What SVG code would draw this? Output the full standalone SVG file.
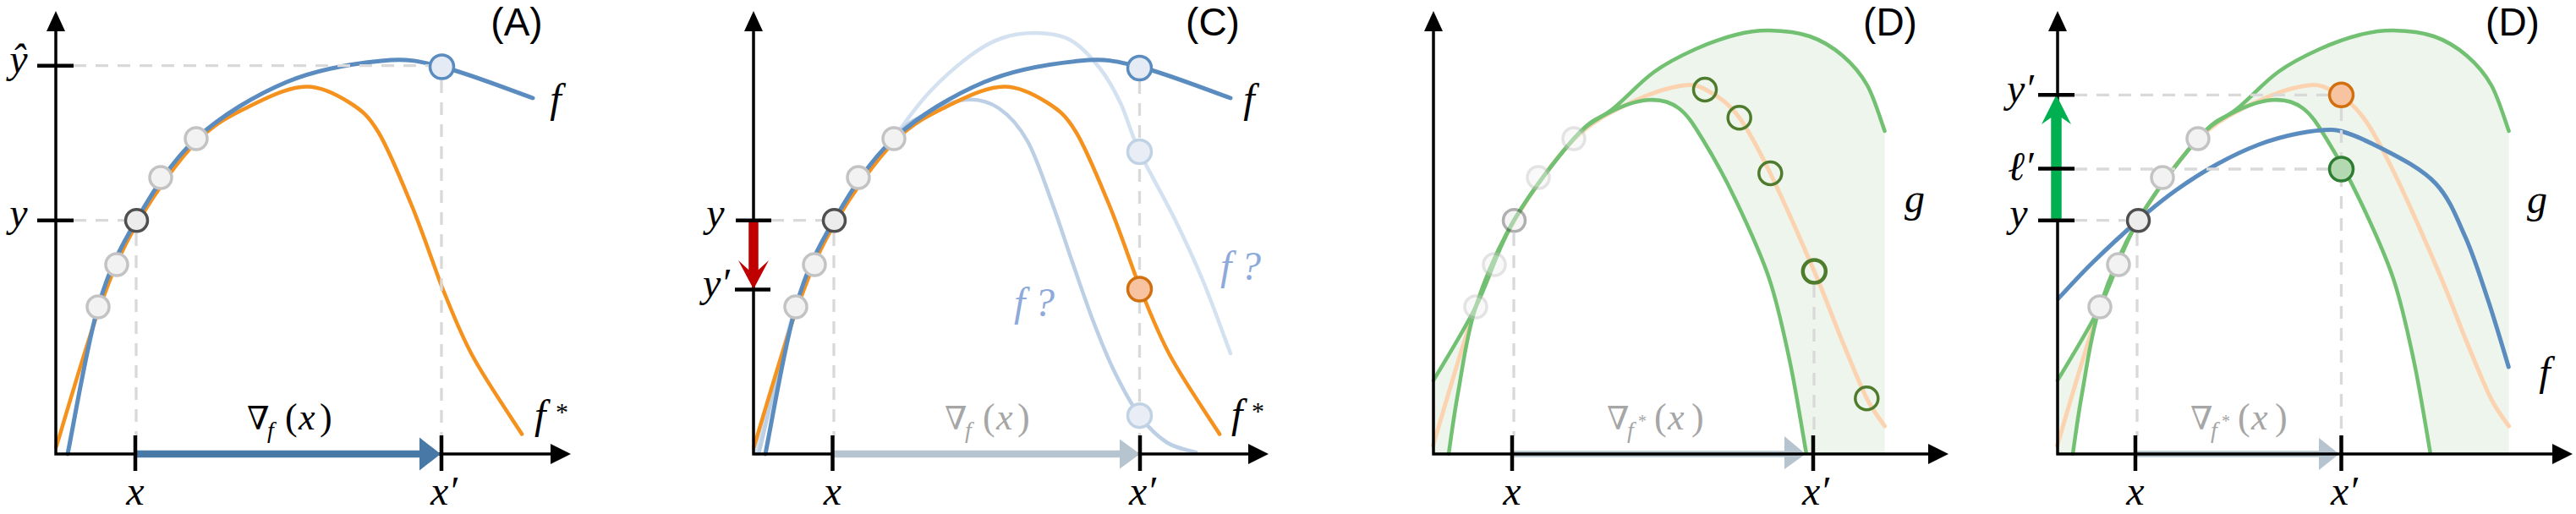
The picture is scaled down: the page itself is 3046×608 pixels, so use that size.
<svg xmlns="http://www.w3.org/2000/svg" width="3046" height="608" viewBox="0 0 3046 608">
<style>
.cv{fill:none;stroke-width:5;stroke-linecap:round;stroke-linejoin:round}
.blue{stroke:#5a8cbf}
.orange{stroke:#f5921e;stroke-width:4.5}
.lb1{stroke:#d3e1f0;stroke-width:4.5}
.lb2{stroke:#bccfe4;stroke-width:4.5}
.green{stroke:#72c072;stroke-width:4.5}
.peach{stroke:#fcd3b0}
.dash{stroke:#d9d9d9;stroke-width:3.3;stroke-dasharray:15 11;fill:none}
.tk{stroke:#000;stroke-width:4.5;fill:none}
.m{font-family:"Liberation Serif","DejaVu Serif",serif;font-style:italic;font-size:48px;fill:#000}
.up{font-style:normal}
.nab{font-family:"DejaVu Serif","Liberation Serif",serif;font-size:38px}
.pl{font-family:"Liberation Sans",Arial,sans-serif;font-size:46px;text-anchor:middle;fill:#000}
.grey{fill:#a6a6a6}
.fq{fill:#8eaadb}
</style>
<defs>
<path id="bf" d="M80,537 C86,508 102.5,409 116,363 C129.5,317 141.7,294.2 161,261 C180.3,227.8 202.3,191.3 232,164 C261.7,136.7 302.5,112.3 339,97 C375.5,81.7 420.4,75 451,72 C481.6,69 492.7,71.7 522.5,79 C552.3,86.3 612.1,109.8 630,116"/>
<path id="of" d="M65,527 C73.5,499.7 100,407.2 116,363 C132,318.8 141.7,295 161,262 C180.3,229 208.8,188.5 232,165 C255.2,141.5 278.5,131.7 300,121 C321.5,110.3 342.3,101.2 361,101 C379.7,100.8 397.8,111 412,120 C426.2,129 433.9,135 446,155 C458.1,175 472.1,209.7 484.7,240 C497.3,270.3 509.5,307.2 521.5,339 C533.5,368 541.3,389.8 557,419 C572.7,448.2 605.8,496.5 615.6,512"/>
<path id="uf" d="M68,537 C76,508 100.5,409 116,363 C131.5,317 141.8,294.2 161,261 C180.2,227.8 212.2,189.3 231,164 C249.8,138.7 258.8,125.3 274,109 C289.2,92.7 307.7,76.7 322,66 C336.3,55.3 347,49.5 360,45 C373,40.5 386.7,38.7 400,39 C413.3,39.3 427.5,40.2 440,47 C452.5,53.8 465,67.5 475,80 C485,92.5 492.1,105.4 500,122 C507.9,138.6 511.7,156.5 522.4,179.5 C533.2,202.5 551.9,234.4 564.5,260 C577.1,285.6 586.9,306.7 597.8,333 C608.7,359.3 624.6,403.8 630,418"/>
<path id="lf" d="M72,537 C79.3,508 101.2,409 116,363 C130.8,317 141.8,294.2 161,261 C180.2,227.8 212.8,185 231,164 C249.2,143 255.7,142.7 270,135 C284.3,127.3 302.7,119.2 317,118 C331.3,116.8 343.8,119.8 356,128 C368.2,136.2 379.5,148.3 390,167 C400.5,185.7 410.2,216.2 419,240 C427.8,263.8 434.9,286.7 443,310 C451.1,333.3 459.5,358.7 467.7,380 C475.9,401.3 482.9,419.4 492,438 C501.1,456.6 511.9,477.4 522.4,491.7 C532.9,506 543.9,516.3 555,523.5 C566.1,530.7 583.3,533.1 589,535"/>
<path id="gu" d="M66,450 C74.3,435.5 100.2,394.5 116,363 C131.8,331.5 141.7,294.2 161,261 C180.3,227.8 212.3,186.2 232,164 C251.7,141.8 263.2,141.2 279,128 C294.8,114.8 310.8,96.7 327,85 C343.2,73.3 359.8,65.3 376,58 C392.2,50.7 409.5,44.7 424,41 C438.5,37.3 448.5,35.7 463,36 C477.5,36.3 496.5,38 511,43 C525.5,48 538.7,56.3 550,66 C561.3,75.7 570.7,86.2 579,101 C587.3,115.8 596.2,146 599.6,155"/>
<path id="gl" d="M84,537 C85.8,525 89.7,494 95,465 C100.3,436 105,397 116,363 C127,329 141.7,294.2 161,261 C180.3,227.8 213.5,185.2 232,164 C250.5,142.8 257.3,141.6 272,134 C286.7,126.4 306,119.3 320,118.3 C334,117.3 345.2,120 356,128 C366.8,136 373.7,147.7 385,166 C396.3,184.3 411,210.7 424,238 C437,265.3 452.5,298.2 463,329.6 C473.5,361 479.9,392.4 487.2,426.6 C494.5,460.8 503.4,516.9 506.6,535"/>
<path id="shade" d="M66,537 L66,450 C74.3,435.5 100.2,394.5 116,363 C131.8,331.5 141.7,294.2 161,261 C180.3,227.8 212.3,186.2 232,164 C251.7,141.8 263.2,141.2 279,128 C294.8,114.8 310.8,96.7 327,85 C343.2,73.3 359.8,65.3 376,58 C392.2,50.7 409.5,44.7 424,41 C438.5,37.3 448.5,35.7 463,36 C477.5,36.3 496.5,38 511,43 C525.5,48 538.7,56.3 550,66 C561.3,75.7 570.7,86.2 579,101 C587.3,115.8 596.2,146 599.6,155 L599.6,537 Z"/>
<path id="inner" d="M84,537 C85.8,525 89.7,494 95,465 C100.3,436 105,397 116,363 C127,329 141.7,294.2 161,261 C180.3,227.8 213.5,185.2 232,164 C250.5,142.8 257.3,141.6 272,134 C286.7,126.4 306,119.3 320,118.3 C334,117.3 345.2,120 356,128 C366.8,136 373.7,147.7 385,166 C396.3,184.3 411,210.7 424,238 C437,265.3 452.5,298.2 463,329.6 C473.5,361 479.9,392.4 487.2,426.6 C494.5,460.8 503.4,516.9 506.6,537 Z"/>
<path id="pk" d="M65.5,527 C73.9,499.7 100.1,407.2 116,363 C131.9,318.8 141.7,295 161,262 C180.3,229 208.8,188.5 232,165 C255.2,141.5 278.3,131.7 300,121 C321.7,110.3 346.2,102.8 362,101 C377.8,99.2 384,103.6 395,110 C406,116.4 416.1,123.5 427.7,139.3 C439.3,155.1 449.5,174.7 464.3,205 C479.1,235.3 502,287.7 516.3,321 C530.6,354.3 539.7,380 550,405 C560.3,430 570,454.7 578.3,471.2 C586.6,487.7 596,498.5 599.6,504"/>
<path id="bd" d="M67,353 C73.8,345.8 92.3,325.3 108,310 C123.7,294.7 144.7,275.2 161,261 C177.3,246.8 190.3,236.2 206,225 C221.7,213.8 238.7,203 255,194 C271.3,185 288.2,177 304,171 C319.8,165 335.7,160.8 350,158 C364.3,155.2 375,153.5 390,153.5 C405,153.5 429.5,165.5 450,176 C470.5,186.5 496.7,199.7 513,217 C529.3,234.3 537.7,257 548,280 C558.3,303 566.4,329.3 575,355 C583.6,380.7 595.3,420.8 599.3,434"/>
<g id="pts" stroke-width="3.5">
<circle cx="116" cy="363" r="13" fill="#f2f2f2" stroke="#c3c3c3"/>
<circle cx="138" cy="313" r="13" fill="#f2f2f2" stroke="#c3c3c3"/>
<circle cx="190" cy="210" r="13" fill="#f2f2f2" stroke="#c3c3c3"/>
<circle cx="232" cy="164" r="13" fill="#f2f2f2" stroke="#c3c3c3"/>
<circle cx="161.5" cy="260.7" r="13" fill="#ececec" stroke="#4f4f4f"/>
</g>
<g id="axes">
<path d="M66,537 V36 M64.3,537 H652" stroke="#000" stroke-width="3.5" fill="none"/>
<polygon points="66,13 55,37 77,37" fill="#000"/>
<polygon points="675,537 651,525 651,549" fill="#000"/>
</g>
</defs>
<rect width="3046" height="608" fill="#fff"/>

<g id="panel-a">
<g id="a-curves">
<use href="#of" class="cv orange" transform="translate(1.5,1.5)"/>
<use href="#bf" class="cv blue"/>
</g>
<g id="a-guides">
<path class="dash" d="M87,77.7 H507 M87,260.7 H147 M161,276 V516 M522,95 V516"/>
</g>
<g id="a-points">
<use href="#pts"/>
<circle cx="522.5" cy="79" r="14" fill="#e5ebf4" stroke="#5a8cbf" stroke-width="3.5"/>
</g>
<g id="a-axes">
<use href="#axes"/>
<line x1="160" y1="537" x2="498" y2="537" stroke="#4878a6" stroke-width="8.5"/>
<polygon points="521,537 496,517.5 496,556.5" fill="#4878a6"/>
<path class="tk" d="M160,515 V557 M522,515 V557 M44,77.7 H87 M44,260.7 H87"/>
</g>
<g id="a-labels">
<text class="m" x="22" y="86" text-anchor="middle">ŷ</text>
<text class="m" x="22" y="268" text-anchor="middle">y</text>
<text class="m" x="160" y="597" text-anchor="middle">x</text>
<text class="m" x="509" y="597">x′</text>
<text class="m" x="657" y="133" text-anchor="middle">f</text>
<text class="m" x="632" y="507">f<tspan class="up" x="657" y="497" font-size="30">*</tspan></text>
<text class="m" y="508"><tspan class="nab" x="292">∇</tspan><tspan x="316" y="518" font-size="28">f</tspan><tspan class="up" x="337" y="508" font-size="44">(</tspan><tspan x="353" font-size="44">x</tspan><tspan class="up" x="378" font-size="44">)</tspan></text>
<text class="pl" x="611" y="42">(A)</text>
</g>
</g>

<g id="panel-c">
<g id="c-curves" transform="translate(825,0)">
<use href="#uf" class="cv lb1"/>
<use href="#lf" class="cv lb2"/>
<use href="#of" class="cv orange" transform="translate(1.5,1.5)"/>
<use href="#bf" class="cv blue"/>
</g>
<g id="c-guides">
<path class="dash" d="M912,260.7 H972 M986,276 V516 M1347.5,96 V516"/>
</g>
<g id="c-points">
<use href="#pts" transform="translate(825,0)"/>
<circle cx="1347.5" cy="80.5" r="14" fill="#e5ebf4" stroke="#5a8cbf" stroke-width="3.5"/>
<circle cx="1347.5" cy="179.5" r="14" fill="#e9eef6" stroke="#c0d2e4" stroke-width="3.5"/>
<circle cx="1347.5" cy="491.7" r="14" fill="#e9eef6" stroke="#c0d2e4" stroke-width="3.5"/>
<circle cx="1347.5" cy="342" r="14" fill="#f8c3a0" stroke="#d2700f" stroke-width="3.5"/>
</g>
<g id="c-axes">
<use href="#axes" transform="translate(825,0)"/>
<line x1="984.5" y1="537" x2="1326" y2="537" stroke="#b5c4cf" stroke-width="8.5"/>
<polygon points="1348,537 1324,519.5 1324,554.5" fill="#b5c4cf"/>
<line x1="891" y1="262" x2="891" y2="320" stroke="#c00000" stroke-width="11.5"/>
<polygon points="891,342 909,308 897,319 885,319 873,308" fill="#c00000"/>
<path class="tk" d="M984.5,515 V557 M1348,515 V557 M870,260.7 H912 M869,342.5 H911"/>
</g>
<g id="c-labels">
<text class="m" x="846" y="268" text-anchor="middle">y</text>
<text class="m" x="831" y="351">y′</text>
<text class="m" x="984.5" y="597" text-anchor="middle">x</text>
<text class="m" x="1335" y="597">x′</text>
<text class="m" x="1477" y="133" text-anchor="middle">f</text>
<text class="m" x="1456" y="506">f<tspan class="up" x="1480" y="496" font-size="30">*</tspan></text>
<text class="m fq" x="1199" y="374">f<tspan x="1223">?</tspan></text>
<text class="m fq" x="1443" y="331">f<tspan x="1467">?</tspan></text>
<text class="m grey" y="508"><tspan class="nab" x="1117">∇</tspan><tspan x="1141" y="518" font-size="28">f</tspan><tspan class="up" x="1162" y="508" font-size="44">(</tspan><tspan x="1178" font-size="44">x</tspan><tspan class="up" x="1203" font-size="44">)</tspan></text>
<text class="pl" x="1434" y="42">(C)</text>
</g>
</g>

<g id="panel-d1">
<g id="d1-curves" transform="translate(1629,0)">
<use href="#shade" fill="#edf5ec"/>
<use href="#inner" fill="#fff"/>
<use href="#pk" class="cv peach"/>
<use href="#gl" class="cv green"/>
<use href="#gu" class="cv green"/>
</g>
<g id="d1-guides">
<path class="dash" d="M1790,276 V516 M2145,337 V516"/>
</g>
<g id="d1-points">
<use href="#pts" transform="translate(1629,0)" opacity="0.45"/>
<g fill="none" stroke="#4f7c2c" stroke-width="3.5">
<circle cx="2016" cy="106" r="13.5"/>
<circle cx="2056.7" cy="139.3" r="13.5"/>
<circle cx="2093.3" cy="205" r="13.5"/>
<circle cx="2145.3" cy="321" r="13.5" stroke-width="4.5"/>
<circle cx="2207.3" cy="471.2" r="13.5"/>
</g>
</g>
<g id="d1-axes">
<line x1="1788" y1="537" x2="2111" y2="537" stroke="#b5c4cf" stroke-width="7.5"/>
<polygon points="2135,537 2110,516 2110,555" fill="#b5c4cf"/>
<use href="#axes" transform="translate(1629,0)"/>
<path class="tk" d="M1788,515 V557 M2144,515 V557"/>
</g>
<g id="d1-labels">
<text class="m" x="1788" y="597" text-anchor="middle">x</text>
<text class="m" x="2131" y="597">x′</text>
<text class="m" x="2264" y="251" text-anchor="middle">g</text>
<text class="m grey" y="508"><tspan class="nab" x="1900">∇</tspan><tspan x="1924" y="518" font-size="28">f</tspan><tspan class="up" x="1937" y="505" font-size="20">*</tspan><tspan class="up" x="1956" y="508" font-size="44">(</tspan><tspan x="1972" font-size="44">x</tspan><tspan class="up" x="2000" font-size="44">)</tspan></text>
<text class="pl" x="2235" y="42">(D)</text>
</g>
</g>

<g id="panel-d2">
<g id="d2-curves" transform="translate(2367,0)">
<use href="#shade" fill="#edf5ec"/>
<use href="#inner" fill="#fff"/>
<use href="#pk" class="cv peach"/>
<use href="#gl" class="cv green"/>
<use href="#gu" class="cv green"/>
<use href="#bd" class="cv blue"/>
</g>
<g id="d2-guides">
<path class="dash" d="M2453,112.3 H2753 M2453,200 H2753 M2453,260.7 H2513 M2527,276 V516 M2768.5,128 V516"/>
</g>
<g id="d2-points">
<use href="#pts" transform="translate(2367,0)"/>
<circle cx="2768.5" cy="112.3" r="14" fill="#f8c3a0" stroke="#d2700f" stroke-width="3.5"/>
<circle cx="2768.5" cy="200" r="14" fill="#b3d9b0" stroke="#2e7d32" stroke-width="3.5"/>
</g>
<g id="d2-axes">
<line x1="2525" y1="537" x2="2743" y2="537" stroke="#b5c4cf" stroke-width="7.5"/>
<polygon points="2766,537 2742,518 2742,556" fill="#b5c4cf"/>
<use href="#axes" transform="translate(2367,0)"/>
<line x1="2431.5" y1="260" x2="2431.5" y2="138" stroke="#00b050" stroke-width="12.5"/>
<polygon points="2431.5,112.3 2449,147 2437.5,139 2425.5,139 2414,147" fill="#00b050"/>
<path class="tk" d="M2525,515 V557 M2768.5,515 V557 M2410,112.3 H2453 M2410,199.5 H2453 M2410,260.7 H2453"/>
</g>
<g id="d2-labels">
<text class="m" x="2373" y="121">y′</text>
<text class="m" x="2374" y="213">ℓ′</text>
<text class="m" x="2387" y="268" text-anchor="middle">y</text>
<text class="m" x="2525" y="597" text-anchor="middle">x</text>
<text class="m" x="2756" y="597">x′</text>
<text class="m" x="3000" y="252" text-anchor="middle">g</text>
<text class="m" x="3009" y="456" text-anchor="middle">f</text>
<text class="m grey" y="508"><tspan class="nab" x="2590">∇</tspan><tspan x="2614" y="518" font-size="28">f</tspan><tspan class="up" x="2627" y="505" font-size="20">*</tspan><tspan class="up" x="2646" y="508" font-size="44">(</tspan><tspan x="2662" font-size="44">x</tspan><tspan class="up" x="2690" font-size="44">)</tspan></text>
<text class="pl" x="2971" y="42">(D)</text>
</g>
</g>
</svg>
